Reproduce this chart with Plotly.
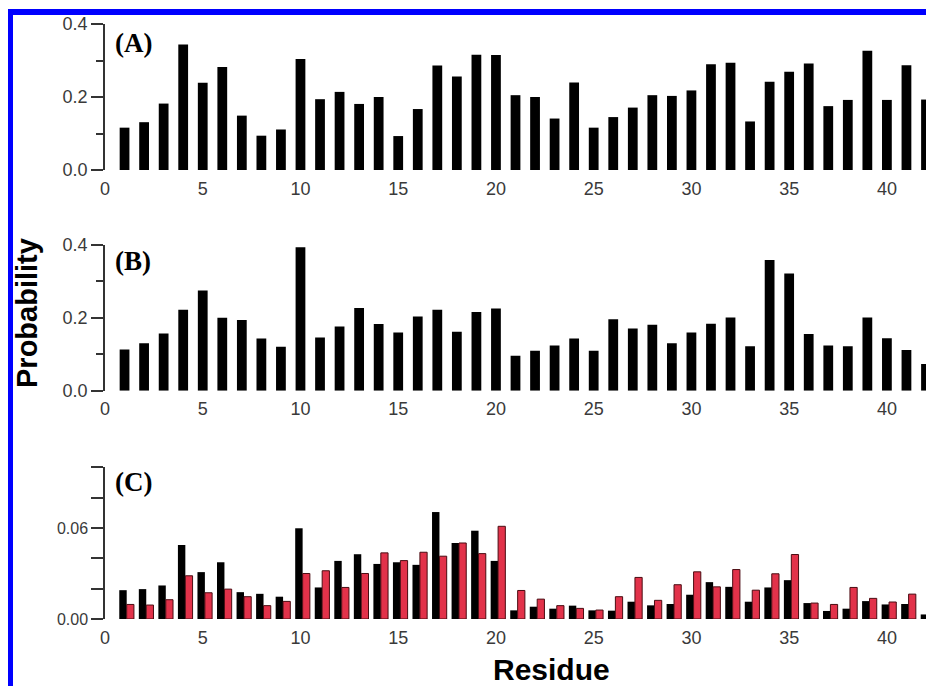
import plotly.graph_objects as go

# ---------------- data ----------------
residues = [1, 2, 3, 4, 5, 6, 7, 8, 9, 10, 11, 12, 13, 14, 15, 16, 17, 18, 19, 20, 21,
            22, 23, 24, 25, 26, 27, 28, 29, 30, 31, 32, 33, 34, 35, 36, 37, 38, 39, 40, 41, 42]

prob_a = [0.116, 0.131, 0.182, 0.344, 0.239, 0.282, 0.149, 0.094, 0.111, 0.304, 0.194,
          0.214, 0.181, 0.200, 0.093, 0.167, 0.286, 0.256, 0.316, 0.315, 0.205, 0.200,
          0.141, 0.240, 0.116, 0.145, 0.171, 0.205, 0.203, 0.218, 0.290, 0.294, 0.133,
          0.242, 0.269, 0.292, 0.175, 0.192, 0.327, 0.192, 0.287, 0.193]

prob_b = [0.113, 0.130, 0.157, 0.222, 0.275, 0.200, 0.194, 0.143, 0.121, 0.394, 0.146,
          0.176, 0.227, 0.183, 0.160, 0.204, 0.222, 0.162, 0.216, 0.226, 0.096, 0.110,
          0.124, 0.143, 0.110, 0.196, 0.171, 0.181, 0.130, 0.160, 0.184, 0.201, 0.122,
          0.359, 0.322, 0.156, 0.124, 0.122, 0.201, 0.144, 0.112, 0.073]

prob_c_black = [0.0190, 0.0197, 0.0221, 0.0488, 0.0309, 0.0374, 0.0177, 0.0166, 0.0147,
                0.0598, 0.0208, 0.0383, 0.0427, 0.0363, 0.0374, 0.0357, 0.0705, 0.0501,
                0.0582, 0.0383, 0.0057, 0.0081, 0.0068, 0.0088, 0.0057, 0.0055, 0.0114,
                0.0090, 0.0099, 0.0160, 0.0243, 0.0212, 0.0114, 0.0208, 0.0256, 0.0105,
                0.0053, 0.0068, 0.0118, 0.0096, 0.0099, 0.0030]

prob_c_red = [0.0096, 0.0092, 0.0127, 0.0285, 0.0173, 0.0197, 0.0147, 0.0088, 0.0116,
              0.0300, 0.0318, 0.0208, 0.0300, 0.0436, 0.0385, 0.0440, 0.0414, 0.0501,
              0.0431, 0.0611, 0.0188, 0.0131, 0.0088, 0.0070, 0.0059, 0.0147, 0.0274,
              0.0123, 0.0226, 0.0311, 0.0212, 0.0326, 0.0190, 0.0298, 0.0425, 0.0105,
              0.0096, 0.0208, 0.0136, 0.0112, 0.0164, 0.0000]

x_ticks = [0, 5, 10, 15, 20, 25, 30, 35, 40]
ab_ticks = [0.0, 0.2, 0.4]
ab_ticktext = ["0.0", "0.2", "0.4"]
c_ticks = [0.00, 0.02, 0.04, 0.06, 0.08, 0.10]
c_ticktext = ["0.00", "", "", "0.06", "", ""]

# ---------------- figure ----------------
W, H = 926, 686
L, R, T, B = 105, 0, 24, 67
pw, ph = W - L - R, H - T - B

def px_x(p):
    return (p - L) / pw

def px_y(p):
    return (H - B - p) / ph

fig = go.Figure()
fig.add_trace(go.Bar(x=residues, y=prob_a, width=0.5, marker=dict(color="black", line=dict(width=0)),
                     xaxis="x", yaxis="y", showlegend=False))
fig.add_trace(go.Bar(x=residues, y=prob_b, width=0.5, marker=dict(color="black", line=dict(width=0)),
                     xaxis="x2", yaxis="y2", showlegend=False))
fig.add_trace(go.Bar(x=residues, y=prob_c_black, width=0.38, offset=-0.27,
                     marker=dict(color="black", line=dict(width=0)),
                     xaxis="x3", yaxis="y3", showlegend=False))
fig.add_trace(go.Bar(x=residues, y=prob_c_red, width=0.37, offset=0.11,
                     marker=dict(color="#E2324A", line=dict(color="#4a0c12", width=1)),
                     xaxis="x3", yaxis="y3", showlegend=False))

tick_font = dict(family="Liberation Sans, Arial, sans-serif", size=18, color="#3a3a3a")
axis_col = "#333333"

xcommon = dict(range=[0, 42], tickvals=x_ticks, showline=False, showgrid=False, zeroline=False,
               ticks="outside", ticklen=2, tickcolor="rgba(0,0,0,0)", tickfont=tick_font)

ycommon = dict(showline=True, linecolor=axis_col, linewidth=1.5, showgrid=False, zeroline=False,
               ticks="outside", ticklen=12, tickwidth=1.5, tickcolor=axis_col)

dom_a = [px_y(170), 1.0]
dom_b = [px_y(390.7), px_y(245)]
dom_c = [0.0, px_y(467.3)]

fig.update_layout(
    width=W, height=H,
    margin=dict(l=L, r=R, t=T, b=B, autoexpand=False),
    paper_bgcolor="white", plot_bgcolor="white",
    barmode="overlay",
    xaxis=dict(**xcommon, anchor="y", domain=[0, 1]),
    xaxis2=dict(**xcommon, anchor="y2", domain=[0, 1]),
    xaxis3=dict(**xcommon, anchor="y3", domain=[0, 1]),
    yaxis=dict(**ycommon, domain=dom_a, range=[0, 0.4], tickvals=ab_ticks, ticktext=ab_ticktext,
               tickfont=tick_font,
               minor=dict(dtick=0.1, ticks="outside", ticklen=7, tickwidth=1.5, tickcolor=axis_col)),
    yaxis2=dict(**ycommon, domain=dom_b, range=[0, 0.4], tickvals=ab_ticks, ticktext=ab_ticktext,
                tickfont=tick_font,
                minor=dict(dtick=0.1, ticks="outside", ticklen=7, tickwidth=1.5, tickcolor=axis_col)),
    yaxis3=dict(**ycommon, domain=dom_c, range=[0, 0.10], tickvals=c_ticks, ticktext=c_ticktext,
                tickfont=dict(family="Liberation Sans, Arial, sans-serif", size=16, color="#3a3a3a")),
)

label_font = dict(family="Liberation Serif, Times New Roman, serif", size=27, color="black")
for txt, ypix in [("<b>(A)</b>", 43), ("<b>(B)</b>", 261), ("<b>(C)</b>", 482)]:
    fig.add_annotation(text=txt, xref="paper", yref="paper", x=px_x(113), y=px_y(ypix),
                       xanchor="left", yanchor="middle", showarrow=False, font=label_font)

fig.add_annotation(text="<b>Probability</b>", xref="paper", yref="paper", x=px_x(27), y=px_y(313),
                   xanchor="center", yanchor="middle", textangle=-90, showarrow=False,
                   font=dict(family="Liberation Sans, Arial, sans-serif", size=29, color="black"))
fig.add_annotation(text="<b>Residue</b>", xref="paper", yref="paper", x=px_x(551), y=px_y(669),
                   xanchor="center", yanchor="middle", showarrow=False,
                   font=dict(family="Liberation Sans, Arial, sans-serif", size=30, color="black"))

# blue frame (top and left edges visible)
fig.add_shape(type="line", xref="paper", yref="paper", x0=px_x(8), x1=px_x(930), y0=px_y(12), y1=px_y(12),
              line=dict(color="#0000FF", width=6), layer="above")
fig.add_shape(type="line", xref="paper", yref="paper", x0=px_x(10.5), x1=px_x(10.5), y0=px_y(9), y1=px_y(690),
              line=dict(color="#0000FF", width=5), layer="above")

fig.write_html("out.html",
               config={"displayModeBar": False},
               post_script="document.body.style.margin='0';document.body.style.overflow='hidden';")
